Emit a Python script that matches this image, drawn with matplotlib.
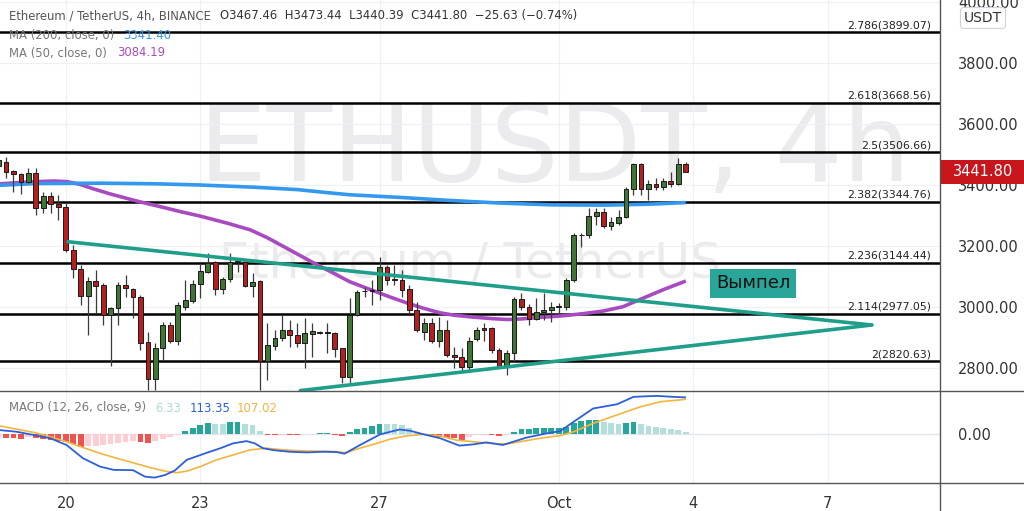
import numpy as np
import matplotlib
matplotlib.use("Agg")
import matplotlib.pyplot as plt
from matplotlib.lines import Line2D
from matplotlib.patches import Rectangle
from matplotlib.transforms import blended_transform_factory

# --- 4h candles, index 0 = Sep 18 16:00 (index -1 is cut by the left edge)
candle_idx = list(range(-1, 92))
candle_open = [3462, 3476, 3445, 3436, 3410, 3437, 3323, 3363, 3336, 3326, 3186, 3123, 3036, 3084, 3071, 2973,
               2995, 3071, 3057, 3033, 2884, 2762, 2864, 2940, 2889, 3000, 3020, 3073, 3115, 3148, 3057, 3090,
               3147, 3148, 3069, 3084, 2823, 2872, 2896, 2924, 2907, 2882, 2910, 2915, 2914, 2915, 2864, 2769,
               2973, 3050, 3053, 3055, 3129, 3090, 3088, 3057, 2989, 2918, 2946, 2889, 2924, 2842, 2834, 2801,
               2894, 2929, 2929, 2858, 2806, 2847, 3024, 2998, 2959, 2982, 2989, 3000, 3000, 3088, 3234, 3234,
               3298, 3309, 3263, 3276, 3293, 3385, 3468, 3385, 3402, 3394, 3412, 3401, 3467.46]
candle_high = [3505, 3492, 3449, 3438, 3454, 3454, 3377, 3377, 3366, 3339, 3202, 3137, 3099, 3120, 3077, 3000,
               3082, 3104, 3060, 3039, 2918, 2880, 2951, 2951, 3017, 3088, 3088, 3142, 3175, 3150, 3099, 3175,
               3159, 3150, 3110, 3086, 2946, 2924, 2973, 2957, 2946, 2962, 2946, 2920, 2946, 2918, 2866, 3028,
               3055, 3066, 3088, 3164, 3137, 3137, 3120, 3071, 3017, 2962, 2962, 2967, 2957, 2869, 2864, 2902,
               2935, 2946, 2935, 2864, 2858, 3033, 3044, 3009, 3028, 3046, 3017, 3011, 3093, 3243, 3243, 3323,
               3323, 3323, 3295, 3317, 3394, 3472, 3472, 3416, 3421, 3421, 3443, 3487, 3473.44]
candle_low = [3455, 3421, 3375, 3370, 3404, 3301, 3306, 3306, 3284, 3180, 3093, 3006, 2907, 2978, 2940, 2804,
              2940, 3033, 2962, 2858, 2727, 2727, 2825, 2880, 2875, 2989, 3011, 3028, 3110, 3039, 3042, 3082,
              3115, 3066, 3033, 2727, 2760, 2858, 2886, 2869, 2869, 2798, 2836, 2910, 2847, 2836, 2749, 2749,
              2970, 3033, 3006, 3022, 3071, 3071, 3033, 2978, 2918, 2891, 2880, 2869, 2836, 2798, 2787, 2787,
              2886, 2886, 2847, 2798, 2776, 2820, 2989, 2940, 2957, 2957, 2951, 2978, 2989, 3082, 3197, 3224,
              3268, 3257, 3252, 3268, 3290, 3366, 3366, 3350, 3383, 3383, 3394, 3399, 3440.39]
candle_close = [3480, 3443, 3435, 3410, 3437, 3323, 3363, 3336, 3326, 3186, 3123, 3036, 3084, 3068, 2973, 2995,
                3071, 3060, 3031, 2882, 2762, 2864, 2940, 2889, 3006, 3022, 3075, 3117, 3142, 3057, 3090, 3148,
                3149, 3068, 3082, 2823, 2875, 2896, 2924, 2907, 2882, 2913, 2920, 2914, 2916, 2860, 2769, 2973,
                3049, 3052, 3055, 3129, 3086, 3088, 3055, 2989, 2924, 2946, 2889, 2924, 2842, 2834, 2801, 2889,
                2924, 2924, 2858, 2806, 2847, 3024, 2998, 2959, 2981, 2989, 3000, 3001, 3088, 3235, 3236, 3298,
                3309, 3263, 3279, 3293, 3385, 3468, 3385, 3402, 3394, 3412, 3401, 3468, 3441.80]

# moving averages (candle index, price)
ma200_x = [-0.8, 4, 13, 20, 26, 33, 39, 43, 46, 53, 59, 66, 73, 80, 86, 91]
ma200_y = [3398, 3404, 3405, 3403, 3399, 3392, 3384, 3374, 3367, 3358, 3349, 3340, 3334, 3333, 3336, 3341.4]
ma50_x = [-0.8, 3.9, 6.5, 8.2, 9.9, 11.5, 13.9, 17.9, 21, 23.3, 26, 29.6, 32.7, 35, 37.1, 39.5, 41.6, 44,
          46, 49.1, 51.5, 53.7, 56, 58.1, 60, 62.5, 65, 67.1, 69, 71.5, 74.5, 77.2, 80, 82.6, 84.9, 88, 91]
ma50_y = [3403, 3410, 3412, 3410, 3401, 3388, 3370, 3344, 3326, 3312, 3297, 3274, 3252, 3226, 3198, 3166,
          3138, 3108, 3082, 3053, 3031, 3012, 2994, 2980, 2972, 2966, 2961, 2958, 2960, 2965, 2970, 2977,
          2986, 3000, 3024, 3056, 3084.19]

# fibonacci extension levels
fib_ratios = ["2.786", "2.618", "2.5", "2.382", "2.236", "2.114", "2"]
fib_prices = [3899.07, 3668.56, 3506.66, 3344.76, 3144.44, 2977.05, 2820.63]

# pennant trend lines (candle index, price)
pennant_upper = [(8.3, 3213), (115.9, 2940)]
pennant_lower = [(39.4, 2725), (115.9, 2940)]

# MACD (12, 26, close, 9)
macd_hist = [-11, -12, -13, -14, -9, -13, -14, -18, -21, -25, -32, -41, -38, -36, -34, -31, -28, -25, -22,
             -26, -29, -23, -16, -10, -3, 9, 19, 29, 35, 32, 31, 36, 36.5, 31, 28, 9, -2, -3, -2, -3, -3.5,
             -1, -0.5, 2, 2.5, -3, -5, 5, 15, 20, 26, 32, 31, 30.5, 28, 20, 7, -3, -6, -8, -11, -13, -18, -8,
             -4, -2, -3, -6, -3, 7, 14, 17, 17.5, 18, 18.5, 19, 23, 33, 40, 43, 44, 36, 33, 32, 35, 38, 32, 26,
             23, 17.5, 14.5, 12, 6.33]
macd_x = [-0.8, 1.4, 3.7, 5.9, 8.1, 10.3, 12.6, 14.4, 17.0, 18.6, 19.9, 21.3, 22.6, 24.2, 26.9, 28.7, 30.4,
          32.2, 33.3, 34.4, 35.8, 38.0, 40.3, 42.5, 44.3, 45.3, 47.4, 50.1, 52.7, 54.1, 55.9, 58.1, 60.7, 62.6,
          64.3, 66.5, 67.9, 69.7, 72.4, 74.2, 76.0, 78.6, 81.8, 84.0, 87.1, 89.3, 90.9]
macd_y = [12, 7, -3, -13, -34, -75, -101, -111, -112, -132, -135, -127, -113, -80, -58, -44, -29, -22, -29,
          -44, -50, -55, -57, -55, -56, -61, -34, -1, 14, 10, -1, -13, -36, -32, -26, -34, -24, -11, 2, 9, 38,
          79, 92, 115, 118, 115, 113.35]
signal_x = [-0.8, 1.4, 3.7, 5.9, 8.1, 10.35, 12.6, 14.8, 17.0, 19.3, 21.5, 22.85, 24.2, 26.0, 28.2, 30.4,
            32.7, 34.9, 37.1, 39.4, 41.6, 43.8, 45.6, 46.9, 49.2, 51.4, 53.6, 55.9, 58.1, 60.3, 62.6, 64.8,
            67.0, 69.3, 71.5, 74.2, 76.0, 78.6, 81.8, 84.9, 87.6, 90.9]
signal_y = [25, 15, 5, -8, -24, -42, -60, -75, -89, -104, -116, -120, -115, -101, -80, -65, -49, -44, -49,
            -52, -53, -54, -58, -47, -32, -16, -6, -1, -6, -19, -24, -29, -31, -22, -13, -5, 7, 33, 59, 84,
            100, 107.02]

date_ticks = [8, 26, 50, 74, 92, 110]
date_labels = ["20", "23", "27", "Oct", "4", "7"]
price_ticks = [2800, 3000, 3200, 3400, 3600, 3800, 4000]
last_price = 3441.80

UP = "#3f7636"
DOWN = "#b41f1f"
TEAL = "#1f9e89"
TXT = "#333333"

W, H = 1024, 511
fig = plt.figure(figsize=(W / 100, H / 100), dpi=100)
fig.patch.set_facecolor("white")
ax = fig.add_axes([0, 1 - 391 / H, 940 / W, 391 / H])
ax2 = fig.add_axes([0, 1 - 483 / H, 940 / W, 92 / H])

xlim = (-0.803, 125.03)
for a in (ax, ax2):
    a.set_xlim(*xlim)
    for s in a.spines.values():
        s.set_visible(False)
    a.set_xticks(date_ticks)
    a.grid(True, color="#eef0f4", lw=0.9, zorder=0)
    a.set_axisbelow(True)
    a.yaxis.tick_right()
    a.tick_params(axis="y", length=0, pad=13, labelsize=10.5, labelcolor=TXT)
ax.set_ylim(2723.6, 4005.6)
ax.set_yticks(price_ticks)
ax.set_yticklabels([f"{p:.2f}" for p in price_ticks])
ax.tick_params(axis="x", length=0, labelbottom=False)

ax2.set_ylim(-151.7, 133.1)
ax2.set_yticks([0])
ax2.set_yticklabels(["0.00"])
ax2.set_xticklabels(date_labels)
ax2.tick_params(axis="x", length=0, pad=9, labelsize=10.5, labelcolor=TXT)

# watermark
ax.text(0.59, 1 - 181 / 391, "ETHUSDT, 4h", transform=ax.transAxes, ha="center", va="baseline",
        fontsize=77, color="#ebebed", zorder=0)
ax.text(0.50, 1 - 278 / 391, "Ethereum / TetherUS", transform=ax.transAxes, ha="center",
        va="baseline", fontsize=35, color="#ebebed", zorder=0)

# fib levels
bt = blended_transform_factory(ax.transAxes, ax.transData)
for r, p in zip(fib_ratios, fib_prices):
    ax.axhline(p, color="black", lw=1.8, zorder=2)
    ax.text(931 / 940, p + 6, f"{r}({p:.2f})", transform=bt, ha="right", va="bottom",
            fontsize=7.8, color="#222222", zorder=2)

# moving averages
ax.plot(ma50_x, ma50_y, color="#a94bc0", lw=2.6, zorder=3, solid_capstyle="butt")
ax.plot(ma200_x, ma200_y, color="#3399ee", lw=2.6, zorder=3, solid_capstyle="butt")

# candles
o = np.array(candle_open)
c = np.array(candle_close)
hi = np.array(candle_high)
lo = np.array(candle_low)
cols = [UP if cc >= oo else DOWN for oo, cc in zip(o, c)]
ax.vlines(candle_idx, lo, hi, color="#3a3a3a", lw=0.9, zorder=4)
ax.bar(candle_idx, np.maximum(np.abs(c - o), 1.5), bottom=np.minimum(o, c), width=0.64,
       color=cols, edgecolor="#1a1a1a", linewidth=0.7, zorder=5)

# pennant
for seg in (pennant_upper, pennant_lower):
    ax.plot([seg[0][0], seg[1][0]], [seg[0][1], seg[1][1]], color=TEAL, lw=2.6, zorder=6,
            solid_capstyle="round")
ax.text(100.0, 3077, "Вымпел", ha="center", va="center", fontsize=13, color="#111111", zorder=7,
        bbox=dict(boxstyle="square,pad=0.3", fc="#2aa59a", ec="none"))

# price tag
ax.add_patch(Rectangle((1.0, last_price - 39), 84 / 940, 78, transform=bt, fc="#c8141b", ec="none",
                       clip_on=False, zorder=10))
ax.text(953 / 940, last_price, f"{last_price:.2f}", transform=bt, ha="left", va="center",
        fontsize=10.5, color="white", zorder=11, clip_on=False)

# MACD panel
hist = np.array(macd_hist)
hcols = []
for k, v in enumerate(hist):
    prev = hist[k - 1] if k > 0 else v
    if v >= 0:
        hcols.append("#26a69a" if v >= prev else "#b2dfdb")
    else:
        hcols.append("#ef5350" if v < prev else "#ffcdd2")
ax2.axhline(0, color="#e3e6ec", lw=0.9, zorder=1)
ax2.bar(candle_idx, hist, width=0.78, color=hcols, zorder=2)
ax2.plot(signal_x, signal_y, color="#f2b53f", lw=1.2, zorder=3)
ax2.plot(macd_x, macd_y, color="#2c5fd8", lw=1.3, zorder=4)

# header legends
def row(x, y, parts, size=8.4):
    for dx, s, col in parts:
        fig.text((x + dx) / W, 1 - y / H, s, ha="left", va="center", fontsize=size, color=col)

row(9, 16, [(0, "Ethereum / TetherUS, 4h, BINANCE", "#555555"),
            (211, "O3467.46  H3473.44  L3440.39  C3441.80  \u221225.63 (\u22120.74%)", "#333333")])
row(9, 35, [(0, "MA (200, close, 0)", "#777777"), (114, "3341.40", "#3399ee")])
row(9, 53, [(0, "MA (50, close, 0)", "#777777"), (108, "3084.19", "#a94bc0")])
row(9, 408, [(0, "MACD (12, 26, close, 9)", "#777777"), (146, "6.33", "#a8dcd6"),
             (181, "113.35", "#2c5fd8"), (228, "107.02", "#f2b53f")])

fig.text(983 / W, 1 - 18 / H, "USDT", ha="center", va="center", fontsize=10, color=TXT,
         bbox=dict(boxstyle="round,pad=0.25", fc="white", ec="#cfd2da", lw=0.8))

# panel separators
for yy in (391, 483):
    fig.add_artist(Line2D([0, 1], [1 - yy / H] * 2, color="#555555", lw=1, transform=fig.transFigure))
fig.add_artist(Line2D([940 / W] * 2, [0, 1], color="#555555", lw=1, transform=fig.transFigure))

fig.savefig("out.png", dpi=100)
